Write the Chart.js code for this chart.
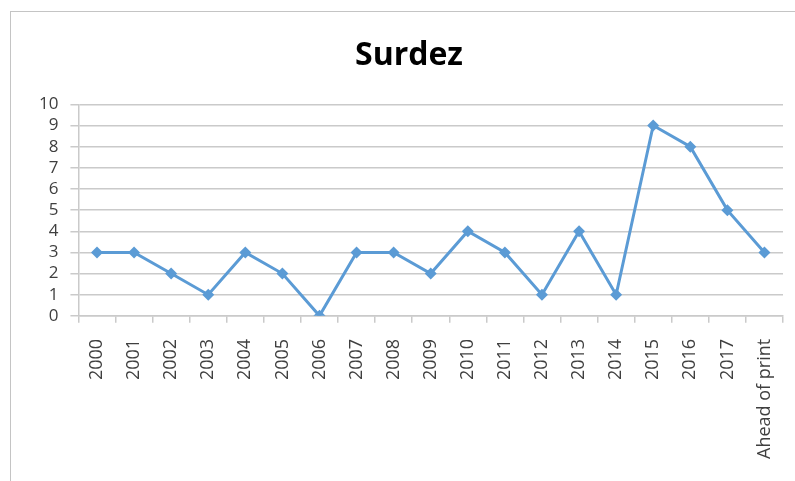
<!DOCTYPE html>
<html>
<head>
<meta charset="utf-8">
<script src="https://cdn.jsdelivr.net/npm/chart.js@4/dist/chart.umd.min.js"></script>
<style>
  html, body { margin: 0; padding: 0; background: #fff; overflow: hidden; }
  #frame { position: absolute; left: 10px; top: 11px; width: 820px; height: 520px; border: 1px solid #c4c4c4; }
  #wrap { position: absolute; left: 0; top: 0; width: 795px; height: 481px; }
</style>
</head>
<body>
<div id="frame"></div>
<div id="wrap"><canvas id="chart"></canvas></div>
<script>
const years = ["2000", "2001", "2002", "2003", "2004", "2005", "2006", "2007", "2008", "2009",
  "2010", "2011", "2012", "2013", "2014", "2015", "2016", "2017", "Ahead of print"];
const counts = [3, 3, 2, 1, 3, 2, 0, 3, 3, 2, 4, 3, 1, 4, 1, 9, 8, 5, 3];
const yTicks = [0, 1, 2, 3, 4, 5, 6, 7, 8, 9, 10];

const LINE = "#5b9bd5";
const GRID = "#cacaca";
const TEXT = "#3f3f3f";

new Chart(document.getElementById("chart"), {
  type: "line",
  data: {
    labels: years,
    datasets: [{
      label: "Surdez",
      data: counts,
      borderColor: LINE,
      backgroundColor: LINE,
      borderWidth: 3,
      pointStyle: "rectRot",
      pointRadius: 6,
      pointBorderWidth: 0,
      tension: 0
    }]
  },
  options: {
    responsive: true,
    maintainAspectRatio: false,
    animation: false,
    layout: { padding: { left: 35, right: 12, top: 37, bottom: 6 } },
    plugins: {
      legend: { display: false },
      tooltip: { enabled: false },
      title: {
        display: true,
        text: "Surdez",
        color: "#000",
        font: { family: "'Open Sans', sans-serif", size: 32, weight: "bold" },
        padding: { top: 0, bottom: 29 }
      }
    },
    scales: {
      x: {
        offset: true,
        afterFit(scale) { scale.paddingLeft = 0; scale.paddingRight = 0; },
        grid: { offset: true, drawOnChartArea: false, color: GRID, lineWidth: 1.5, tickLength: 7 },
        border: { color: GRID, width: 1.5 },
        ticks: {
          color: TEXT,
          font: { family: "'Open Sans', sans-serif", size: 18 },
          minRotation: 90,
          maxRotation: 90,
          padding: 16,
          autoSkip: false
        }
      },
      y: {
        min: 0,
        max: 10,
        afterFit(scale) { scale.width -= 8; },
        afterBuildTicks(axis) { axis.ticks = yTicks.map(v => ({ value: v })); },
        grid: { color: GRID, lineWidth: 1.5, tickLength: 8 },
        border: { color: GRID, width: 1.5 },
        ticks: {
          color: TEXT,
          font: { family: "'Open Sans', sans-serif", size: 17 },
          padding: 12,
          autoSkip: false
        }
      }
    }
  }
});
</script>
</body>
</html>
